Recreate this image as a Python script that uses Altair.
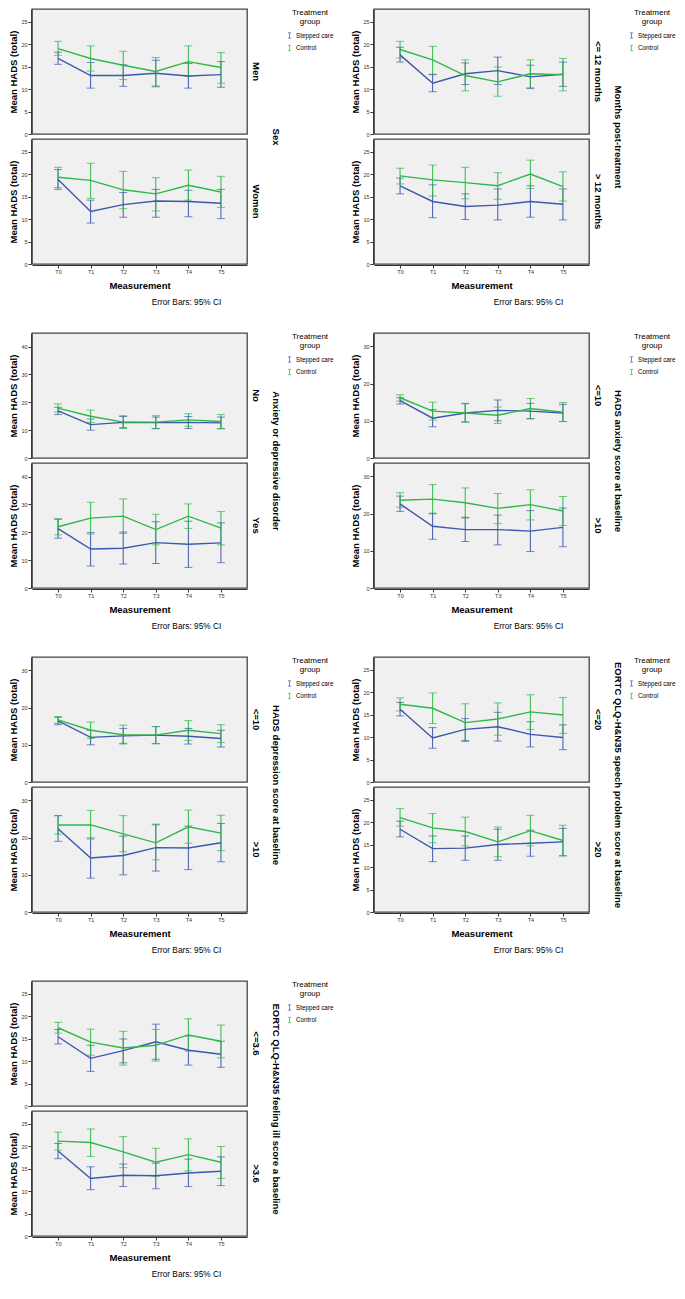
import altair as alt
import pandas as pd

TIMES = ["T0", "T1", "T2", "T3", "T4", "T5"]
GROUPS = ["Stepped care", "Control"]
GROUP_COLORS = ["#3E58AC", "#2EB848"]

# ---- Sex ----
MEN_SC_MEAN = [16.8, 13.0, 13.0, 13.5, 12.9, 13.2]
MEN_SC_LO = [15.5, 10.2, 10.6, 10.5, 10.2, 10.4]
MEN_SC_HI = [18.2, 15.9, 15.4, 16.4, 15.7, 16.1]
MEN_CT_MEAN = [19.0, 16.8, 15.3, 13.9, 16.1, 14.8]
MEN_CT_LO = [17.5, 14.0, 12.1, 10.7, 12.8, 11.3]
MEN_CT_HI = [20.6, 19.6, 18.4, 17.0, 19.6, 18.1]
WOMEN_SC_MEAN = [18.8, 11.7, 13.2, 14.0, 13.9, 13.5]
WOMEN_SC_LO = [16.6, 9.1, 10.4, 10.4, 10.5, 10.1]
WOMEN_SC_HI = [21.0, 14.2, 15.9, 16.6, 16.4, 16.6]
WOMEN_CT_MEAN = [19.3, 18.6, 16.5, 15.6, 17.5, 16.0]
WOMEN_CT_LO = [17.0, 14.6, 12.3, 11.8, 14.2, 12.6]
WOMEN_CT_HI = [21.5, 22.4, 20.6, 19.2, 20.9, 19.5]

# ---- Months post-treatment ----
LE12M_SC_MEAN = [17.6, 11.3, 13.4, 14.1, 12.7, 13.3]
LE12M_SC_LO = [16.0, 9.4, 11.0, 11.0, 10.1, 10.6]
LE12M_SC_HI = [19.3, 13.2, 15.8, 17.1, 15.3, 16.0]
LE12M_CT_MEAN = [18.8, 16.5, 13.0, 11.6, 13.4, 13.2]
LE12M_CT_LO = [16.9, 13.3, 9.6, 8.4, 10.3, 9.6]
LE12M_CT_HI = [20.6, 19.5, 16.5, 14.9, 16.5, 16.8]
GT12M_SC_MEAN = [17.4, 13.9, 12.8, 13.1, 13.9, 13.3]
GT12M_SC_LO = [15.6, 10.3, 9.9, 9.8, 10.4, 9.8]
GT12M_SC_HI = [19.1, 17.6, 15.6, 16.7, 17.4, 16.7]
GT12M_CT_MEAN = [19.6, 18.7, 18.1, 17.4, 20.0, 17.2]
GT12M_CT_LO = [17.8, 15.1, 14.5, 14.4, 16.8, 14.0]
GT12M_CT_HI = [21.3, 22.0, 21.5, 20.3, 23.1, 20.5]

# ---- Anxiety or depressive disorder ----
NO_SC_MEAN = [16.9, 12.0, 12.8, 12.7, 12.8, 12.6]
NO_SC_LO = [15.6, 10.0, 10.9, 10.6, 10.6, 10.5]
NO_SC_HI = [18.2, 14.0, 14.9, 14.7, 14.9, 14.7]
NO_CT_MEAN = [17.9, 15.0, 12.9, 12.9, 13.7, 13.1]
NO_CT_LO = [16.5, 12.8, 10.6, 10.5, 11.4, 10.6]
NO_CT_HI = [19.4, 17.2, 15.2, 15.2, 15.9, 15.6]
YES_SC_MEAN = [21.3, 14.0, 14.3, 16.3, 15.7, 16.2]
YES_SC_LO = [17.9, 7.9, 8.6, 8.8, 7.4, 9.1]
YES_SC_HI = [24.7, 19.9, 20.1, 23.8, 24.0, 23.4]
YES_CT_MEAN = [22.0, 25.1, 25.8, 21.0, 25.8, 21.5]
YES_CT_LO = [19.1, 19.4, 19.6, 15.5, 21.4, 15.5]
YES_CT_HI = [24.9, 30.8, 32.0, 26.5, 30.2, 27.5]

# ---- HADS anxiety score at baseline ----
ANX_LE10_SC_MEAN = [15.4, 10.7, 12.1, 12.8, 12.6, 12.1]
ANX_LE10_SC_LO = [14.5, 8.4, 9.7, 10.0, 10.6, 9.8]
ANX_LE10_SC_HI = [16.2, 13.0, 14.6, 15.6, 14.7, 14.4]
ANX_LE10_CT_MEAN = [16.2, 12.6, 12.1, 11.5, 13.3, 12.3]
ANX_LE10_CT_LO = [15.3, 10.2, 9.6, 9.3, 10.5, 9.8]
ANX_LE10_CT_HI = [17.0, 15.0, 14.7, 13.7, 16.0, 14.9]
ANX_GT10_SC_MEAN = [22.6, 16.6, 15.7, 15.7, 15.3, 16.3]
ANX_GT10_SC_LO = [20.6, 13.1, 12.5, 11.6, 9.8, 11.1]
ANX_GT10_SC_HI = [24.7, 20.1, 19.0, 19.6, 20.8, 21.5]
ANX_GT10_CT_MEAN = [23.6, 23.9, 22.9, 21.4, 22.4, 20.7]
ANX_GT10_CT_LO = [21.7, 19.9, 18.8, 17.3, 18.3, 16.8]
ANX_GT10_CT_HI = [25.6, 27.8, 26.9, 25.4, 26.4, 24.6]

# ---- HADS depression score at baseline ----
DEP_LE10_SC_MEAN = [16.4, 12.0, 12.4, 12.6, 12.3, 11.7]
DEP_LE10_SC_LO = [15.4, 10.0, 10.4, 10.3, 10.2, 9.4]
DEP_LE10_SC_HI = [17.4, 13.9, 14.4, 14.9, 14.4, 13.9]
DEP_LE10_CT_MEAN = [16.7, 13.9, 12.7, 12.6, 13.9, 13.0]
DEP_LE10_CT_LO = [15.8, 11.7, 10.2, 10.3, 11.2, 10.6]
DEP_LE10_CT_HI = [17.6, 16.1, 15.3, 14.9, 16.5, 15.4]
DEP_GT10_SC_MEAN = [22.4, 14.5, 15.2, 17.3, 17.2, 18.6]
DEP_GT10_SC_LO = [19.0, 9.1, 10.0, 11.0, 11.4, 13.5]
DEP_GT10_SC_HI = [25.9, 19.9, 20.4, 23.6, 23.1, 23.8]
DEP_GT10_CT_MEAN = [23.4, 23.4, 21.0, 18.6, 22.9, 21.2]
DEP_GT10_CT_LO = [20.9, 19.6, 16.2, 14.0, 18.5, 16.5]
DEP_GT10_CT_HI = [25.9, 27.3, 25.9, 23.4, 27.4, 26.0]

# ---- EORTC QLQ-H&N35 speech problem score at baseline ----
SPE_LE20_SC_MEAN = [16.2, 9.8, 11.7, 12.3, 10.6, 9.9]
SPE_LE20_SC_LO = [14.7, 7.5, 9.2, 9.1, 7.8, 7.2]
SPE_LE20_SC_HI = [17.7, 12.1, 14.1, 15.5, 13.4, 12.7]
SPE_LE20_CT_MEAN = [17.3, 16.4, 13.2, 14.0, 15.6, 14.9]
SPE_LE20_CT_LO = [15.8, 13.0, 9.0, 10.4, 11.7, 10.8]
SPE_LE20_CT_HI = [18.7, 19.8, 17.4, 17.6, 19.4, 18.8]
SPE_GT20_SC_MEAN = [18.4, 14.1, 14.2, 15.0, 15.3, 15.6]
SPE_GT20_SC_LO = [16.7, 11.2, 11.5, 11.5, 12.4, 12.5]
SPE_GT20_SC_HI = [20.2, 16.9, 16.9, 18.4, 18.2, 18.6]
SPE_GT20_CT_MEAN = [21.0, 18.7, 17.9, 15.6, 18.1, 15.9]
SPE_GT20_CT_LO = [19.1, 15.4, 14.7, 12.3, 14.7, 12.5]
SPE_GT20_CT_HI = [23.0, 21.9, 21.1, 18.9, 21.5, 19.3]

# ---- EORTC QLQ-H&N35 feeling ill score at baseline ----
ILL_LE36_SC_MEAN = [15.4, 10.6, 12.3, 14.3, 12.4, 11.5]
ILL_LE36_SC_LO = [13.8, 7.7, 9.6, 10.4, 9.1, 8.6]
ILL_LE36_SC_HI = [17.0, 13.5, 14.9, 18.2, 15.6, 14.4]
ILL_LE36_CT_MEAN = [17.4, 14.2, 12.9, 13.5, 15.8, 14.4]
ILL_LE36_CT_LO = [16.2, 11.3, 9.1, 10.0, 12.2, 10.7]
ILL_LE36_CT_HI = [18.6, 17.1, 16.6, 17.0, 19.4, 18.0]
ILL_GT36_SC_MEAN = [18.9, 12.8, 13.5, 13.4, 14.0, 14.4]
ILL_GT36_SC_LO = [17.2, 10.3, 11.0, 10.5, 11.0, 11.2]
ILL_GT36_SC_HI = [20.6, 15.4, 16.0, 16.2, 17.1, 17.6]
ILL_GT36_CT_MEAN = [21.1, 20.8, 18.7, 16.4, 18.1, 16.4]
ILL_GT36_CT_LO = [19.1, 17.7, 15.2, 13.3, 14.5, 12.8]
ILL_GT36_CT_HI = [23.1, 23.8, 22.1, 19.5, 21.6, 19.9]

FONT = "Liberation Sans"
PLOT_W = 215
PLOT_H = 125


def panel_rows(label, sc, ct):
    rows = []
    for group, (means, los, his) in zip(GROUPS, (sc, ct)):
        for t, m, lo, hi in zip(TIMES, means, los, his):
            rows.append({"row": label, "group": group, "time": t,
                         "mean": m, "lo": lo, "hi": hi})
    return rows


def block(title, labels, panels, ymax, yticks):
    rows = []
    for lbl, (sc, ct) in zip(labels, panels):
        rows += panel_rows(lbl, sc, ct)
    df = pd.DataFrame(rows)

    x = alt.X("time:N", sort=TIMES,
              scale=alt.Scale(type="point", padding=0.8),
              axis=alt.Axis(title="Measurement", labelAngle=0, titlePadding=6))
    yax = alt.Axis(title="Mean HADS (total)", values=yticks, titlePadding=2)
    ysc = alt.Scale(domain=[0, ymax], nice=False, zero=True)
    color = alt.Color(
        "group:N", sort=GROUPS,
        scale=alt.Scale(domain=GROUPS, range=GROUP_COLORS),
        legend=alt.Legend(
            title=["Treatment", "group"], orient="right", offset=5,
            titleFontSize=8, titleFontWeight="normal", titleAlign="center",
            titleAnchor="middle", titlePadding=6, titleLineHeight=9,
            labelFontSize=6.3, labelOffset=3, rowPadding=1.5,
            symbolType="M0,-1V1M-0.6,-1H0.6M-0.6,1H0.6",
            symbolSize=28, symbolStrokeWidth=1, symbolFillColor="transparent"))

    base = alt.Chart(df)
    rule = base.mark_rule(strokeWidth=1).encode(
        x=x, y=alt.Y("lo:Q", scale=ysc, axis=yax), y2="hi:Q", color=color)
    cap_lo = base.mark_tick(size=8, thickness=1).encode(
        x=x, y=alt.Y("lo:Q", scale=ysc, axis=yax), color=color)
    cap_hi = base.mark_tick(size=8, thickness=1).encode(
        x=x, y=alt.Y("hi:Q", scale=ysc, axis=yax), color=color)
    line = base.mark_line(strokeWidth=1.4).encode(
        x=x, y=alt.Y("mean:Q", scale=ysc, axis=yax), color=color)
    layer = alt.layer(rule, cap_lo, cap_hi, line).properties(
        width=PLOT_W, height=PLOT_H)
    return layer.facet(
        row=alt.Row("row:N", sort=labels, header=alt.Header(
            title=title, titleOrient="right", labelOrient="right",
            labelAngle=90, titleAngle=90, labelFontSize=9.5, titleFontSize=9.5,
            labelFontWeight="bold", titleFontWeight="bold", labelFont=FONT,
            titleFont=FONT, labelColor="black", titleColor="black",
            labelPadding=3, titlePadding=0)),
        spacing=3,
        title=alt.TitleParams("Error Bars: 95% CI", orient="bottom",
                              anchor="middle", dx=15, offset=8,
                              fontSize=8.3, fontWeight="normal", font=FONT,
                              color="black"),
    )


T25 = [0, 5, 10, 15, 20, 25]
T40 = [0, 10, 20, 30, 40]
T30 = [0, 10, 20, 30]

b1 = block("Sex", ["Men", "Women"],
           [((MEN_SC_MEAN, MEN_SC_LO, MEN_SC_HI), (MEN_CT_MEAN, MEN_CT_LO, MEN_CT_HI)),
            ((WOMEN_SC_MEAN, WOMEN_SC_LO, WOMEN_SC_HI), (WOMEN_CT_MEAN, WOMEN_CT_LO, WOMEN_CT_HI))],
           27.8, T25)
b2 = block("Months post-treatment", ["<= 12 months", "> 12 months"],
           [((LE12M_SC_MEAN, LE12M_SC_LO, LE12M_SC_HI), (LE12M_CT_MEAN, LE12M_CT_LO, LE12M_CT_HI)),
            ((GT12M_SC_MEAN, GT12M_SC_LO, GT12M_SC_HI), (GT12M_CT_MEAN, GT12M_CT_LO, GT12M_CT_HI))],
           27.8, T25)
b3 = block("Anxiety or depressive disorder", ["No", "Yes"],
           [((NO_SC_MEAN, NO_SC_LO, NO_SC_HI), (NO_CT_MEAN, NO_CT_LO, NO_CT_HI)),
            ((YES_SC_MEAN, YES_SC_LO, YES_SC_HI), (YES_CT_MEAN, YES_CT_LO, YES_CT_HI))],
           44.9, T40)
b4 = block("HADS anxiety score at baseline", ["<=10", ">10"],
           [((ANX_LE10_SC_MEAN, ANX_LE10_SC_LO, ANX_LE10_SC_HI), (ANX_LE10_CT_MEAN, ANX_LE10_CT_LO, ANX_LE10_CT_HI)),
            ((ANX_GT10_SC_MEAN, ANX_GT10_SC_LO, ANX_GT10_SC_HI), (ANX_GT10_CT_MEAN, ANX_GT10_CT_LO, ANX_GT10_CT_HI))],
           33.6, T30)
b5 = block("HADS depression score at baseline", ["<=10", ">10"],
           [((DEP_LE10_SC_MEAN, DEP_LE10_SC_LO, DEP_LE10_SC_HI), (DEP_LE10_CT_MEAN, DEP_LE10_CT_LO, DEP_LE10_CT_HI)),
            ((DEP_GT10_SC_MEAN, DEP_GT10_SC_LO, DEP_GT10_SC_HI), (DEP_GT10_CT_MEAN, DEP_GT10_CT_LO, DEP_GT10_CT_HI))],
           33.6, T30)
b6 = block("EORTC QLQ-H&N35 speech problem score at baseline", ["<=20", ">20"],
           [((SPE_LE20_SC_MEAN, SPE_LE20_SC_LO, SPE_LE20_SC_HI), (SPE_LE20_CT_MEAN, SPE_LE20_CT_LO, SPE_LE20_CT_HI)),
            ((SPE_GT20_SC_MEAN, SPE_GT20_SC_LO, SPE_GT20_SC_HI), (SPE_GT20_CT_MEAN, SPE_GT20_CT_LO, SPE_GT20_CT_HI))],
           27.8, T25)
b7 = block("EORTC QLQ-H&N35 feeling ill score a baseline", ["<=3.6", ">3.6"],
           [((ILL_LE36_SC_MEAN, ILL_LE36_SC_LO, ILL_LE36_SC_HI), (ILL_LE36_CT_MEAN, ILL_LE36_CT_LO, ILL_LE36_CT_HI)),
            ((ILL_GT36_SC_MEAN, ILL_GT36_SC_LO, ILL_GT36_SC_HI), (ILL_GT36_CT_MEAN, ILL_GT36_CT_LO, ILL_GT36_CT_HI))],
           27.8, T25)

chart = alt.concat(b1, b2, b3, b4, b5, b6, b7, columns=2,
                   spacing={"row": 25, "column": 16}).resolve_scale(
    color="independent", x="independent", y="independent"
).properties(padding={"left": 0, "top": 0, "right": 0, "bottom": 0}).configure(
    font=FONT
).configure_view(
    fill="#f0f0f0", stroke="#444444", strokeWidth=1.3
).configure_axis(
    grid=False, labelFontSize=5.5, labelColor="#333333", labelFont=FONT,
    tickColor="#333333", domainColor="#333333", tickSize=3, labelPadding=1,
    titleFontSize=9.5, titleFontWeight="bold", titleColor="black", titleFont=FONT
).configure_legend(
    labelFont=FONT, titleFont=FONT, labelColor="black", titleColor="black"
)

chart.save("out.html", embed_options={"renderer": "svg", "actions": False})
